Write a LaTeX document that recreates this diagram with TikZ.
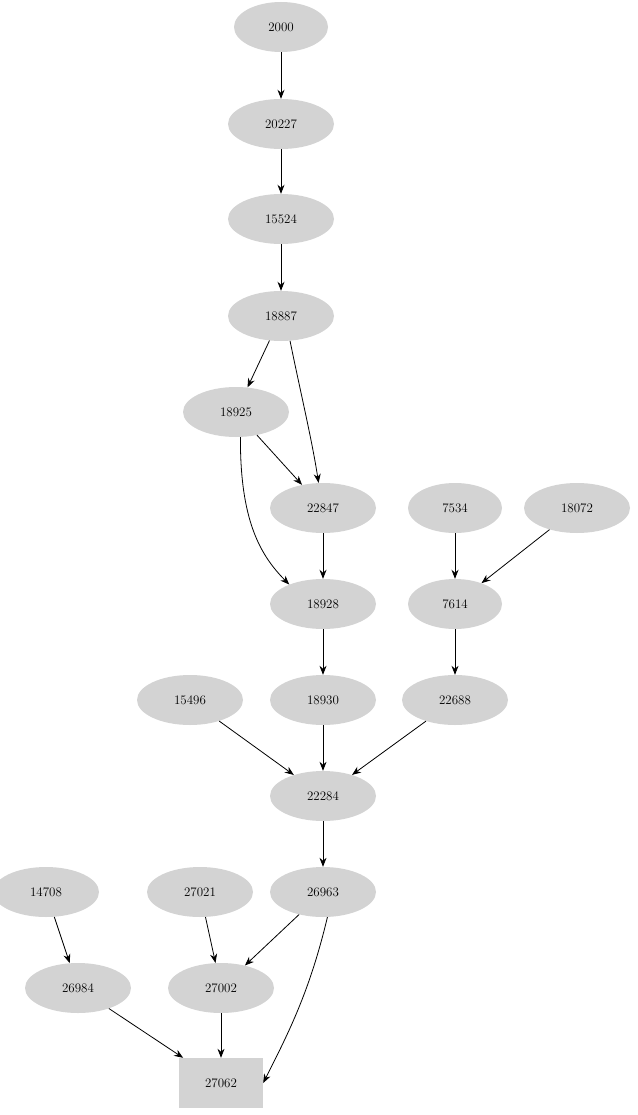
\documentclass[tikz,border=0pt]{standalone}
\usetikzlibrary{shapes.geometric,arrows.meta}
\definecolor{nodegray}{RGB}{211,211,211}
\begin{document}
\begin{tikzpicture}[x=1pt,y=-1pt,
  nd/.style={ellipse,fill=nodegray,minimum width=106pt,minimum height=50pt,inner sep=0pt,font=\fontsize{13}{15}\selectfont},
  sq/.style={rectangle,fill=nodegray,minimum width=84pt,minimum height=50pt,inner sep=0pt,font=\fontsize{13}{15}\selectfont},
  ar/.style={-{Stealth[length=9pt,width=7pt]},line width=0.8pt}]
\useasboundingbox (0,0) rectangle (637,1115);
\node[nd,minimum width=94pt] (n2000) at (281,27) {2000};
\node[nd] (n20227) at (281,124) {20227};
\node[nd] (n15524) at (281,219) {15524};
\node[nd] (n18887) at (281,316) {18887};
\node[nd] (n18925) at (236,412) {18925};
\node[nd] (n22847) at (323,508) {22847};
\node[nd,minimum width=94pt] (n7534) at (455,508) {7534};
\node[nd] (n18072) at (577,508) {18072};
\node[nd] (n18928) at (323,604) {18928};
\node[nd,minimum width=94pt] (n7614) at (455,604) {7614};
\node[nd] (n15496) at (190,700) {15496};
\node[nd] (n18930) at (323,700) {18930};
\node[nd] (n22688) at (455,700) {22688};
\node[nd] (n22284) at (323,796) {22284};
\node[nd] (n14708) at (46,892) {14708};
\node[nd] (n27021) at (200,892) {27021};
\node[nd] (n26963) at (323,892) {26963};
\node[nd] (n26984) at (78,988) {26984};
\node[nd] (n27002) at (221,988) {27002};
\node[sq] (n27062) at (221,1083) {27062};
\draw[ar] (n2000) -- (n20227);
\draw[ar] (n20227) -- (n15524);
\draw[ar] (n15524) -- (n18887);
\draw[ar] (n18887) -- (n18925);
\draw[ar] (n18887.-70) .. controls (300,390) and (312,440) .. (n22847.100);
\draw[ar] (n18925) -- (n22847);
\draw[ar] (n18925.-80) .. controls (240,520) and (260,555) .. (n18928.150);
\draw[ar] (n22847) -- (n18928);
\draw[ar] (n7534) -- (n7614);
\draw[ar] (n18072) -- (n7614);
\draw[ar] (n18928) -- (n18930);
\draw[ar] (n7614) -- (n22688);
\draw[ar] (n15496) -- (n22284);
\draw[ar] (n18930) -- (n22284);
\draw[ar] (n22688) -- (n22284);
\draw[ar] (n22284) -- (n26963);
\draw[ar] (n14708) -- (n26984);
\draw[ar] (n27021) -- (n27002);
\draw[ar] (n26963) -- (n27002);
\draw[ar] (n26963.-80) .. controls (310,990) and (290,1030) .. (n27062.east);
\draw[ar] (n26984) -- (n27062);
\draw[ar] (n27002) -- (n27062);
\end{tikzpicture}
\end{document}
